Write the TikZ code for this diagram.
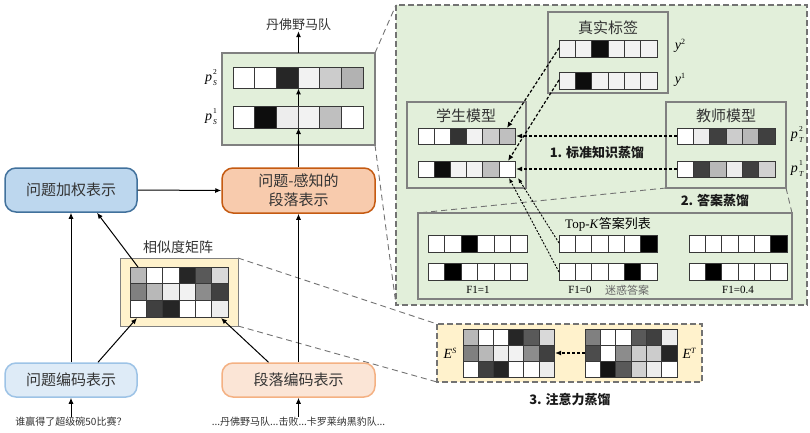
\documentclass[tikz,border=0pt]{standalone}
\usepackage{fontspec}
\setmainfont{Liberation Serif}
\newfontfamily\cjk{Noto Sans CJK SC}
\usetikzlibrary{arrows.meta}
\definecolor{gfill}{HTML}{E2EFDA}
\definecolor{yfill}{HTML}{FFF2CC}
\definecolor{bfill}{HTML}{BDD7EE}
\definecolor{bdraw}{HTML}{41719C}
\definecolor{lbfill}{HTML}{DEEBF7}
\definecolor{lbdraw}{HTML}{9DC3E6}
\definecolor{ofill}{HTML}{F8CBAD}
\definecolor{odraw}{HTML}{C55A11}
\definecolor{lofill}{HTML}{FBE5D6}
\definecolor{lodraw}{HTML}{F4B183}
\tikzset{
  cellline/.style={draw=black!78, line width=0.7pt},
  arr/.style={-{Latex[length=6pt,width=5pt]}, line width=1pt, black},
  darr/.style={arr, dash pattern=on 3pt off 2pt, line width=1.2pt},
  dotarr/.style={-{Latex[length=5pt,width=4pt]}, black, dash pattern=on 2pt off 1.5pt, line width=0.9pt},
  guide/.style={draw=black!55, dash pattern=on 6pt off 4pt, line width=0.9pt},
  panel/.style={draw=black!50, line width=1.2pt},
  cn/.style={font=\cjk\fontsize{#1}{#1}\selectfont, text=black!80, inner sep=0pt},
  bn/.style={font=\cjk\bfseries\fontsize{#1}{#1}\selectfont, text=black!90, inner sep=0pt},
  rbox/.style={rounded corners=11pt, line width=1.5pt, inner sep=0pt, align=center,
    font=\cjk\fontsize{15}{19}\selectfont, text=black!80},
  lab/.style={inner sep=0pt, font=\fontsize{14}{14}\selectfont}
}
\newcommand\gridrow[5]{\foreach \gv [count=\gi from 0] in {#5}{\draw[cellline,fill=black!\gv] ({#1+\gi*#3},{#2}) rectangle ++(#3,#4);}}
\newcommand\supsub[3]{\textit{#1}\kern1.2pt\makebox[0pt][l]{\raisebox{6.5pt}{\fontsize{7.5}{7.5}\selectfont #2}}\raisebox{-4.5pt}{\fontsize{7.5}{7.5}\selectfont\itshape #3}}
\begin{document}
\begin{tikzpicture}[x=1pt,y=-1pt]
\useasboundingbox (0,0) rectangle (810,433);

% ---------- green distillation region ----------
\draw[fill=gfill, draw=black!55, dash pattern=on 6pt off 3pt, line width=1.2pt] (396,5) rectangle (807,305);

% guide lines
\draw[guide] (375,53) -- (396,5);
\draw[guide] (375,145) -- (396,305);
\draw[guide] (238,258) -- (437,324);
\draw[guide] (238,326) -- (437,382);
\draw[guide] (666,188) -- (418,213);
\draw[guide] (786,188) -- (792,213);

% ---------- left pipeline ----------
\node[rbox, fill=bfill, draw=bdraw, minimum width=132pt, minimum height=44pt] (qw) at (71,190) {问题加权表示};
\node[rbox, fill=ofill, draw=odraw, minimum width=153pt, minimum height=45pt] (pa) at (298.5,190.5) {问题-感知的\\段落表示};
\node[rbox, fill=lbfill, draw=lbdraw, minimum width=132pt, minimum height=34pt] (qe) at (71,380) {问题编码表示};
\node[rbox, fill=lofill, draw=lodraw, minimum width=153pt, minimum height=34pt] (pe) at (298.5,380) {段落编码表示};

\node[cn=10] (qt) at (71,422) {谁赢得了超级碗50比赛？};
\node[cn=10] (pt) at (298.5,422) {...丹佛野马队...击败...卡罗莱纳黑豹队...};

% similarity matrix
\draw[draw=black!50, line width=1pt, fill=yfill] (120,258) rectangle (238,326);
\gridrow{130}{267}{16.33}{16.67}{28,0,0,85,65,15}
\gridrow{130}{283.67}{16.33}{16.67}{50,28,7,5,45,75}
\gridrow{130}{300.33}{16.33}{16.67}{0,75,85,0,0,7}
\node[cn=14] (simlab) at (178,247) {相似度矩阵};
\coordinate (simBL) at (137,318);
\coordinate (simBR) at (221,318);
\coordinate (simTL) at (138,267);

\draw[arr] (qt.north) -- (qe.south);
\draw[arr] (pt.north) -- (pe.south);
\draw[arr] (qe.north) -- (qw.south);
\draw[arr] ([xshift=27pt]qe.north) -- (simBL);
\draw[arr] (simTL) -- ([xshift=26pt]qw.south);
\draw[arr] ([xshift=-30pt]pe.north) -- (simBR);
\draw[arr] (pe.north) -- (pa.south);
\draw[arr] (qw.east) -- (pa.west);

% output box p_S
\draw[fill=gfill, draw=black!50, line width=1.5pt] (222,53) rectangle (375,145);
\gridrow{233}{67}{21.67}{21.5}{0,0,85,5,20,30}
\gridrow{233}{106.5}{21.67}{21.5}{0,95,7,5,25,0}
\node[lab] (ps2) at (211,78) {\supsub{p}{2}{S}};
\node[lab] (ps1) at (211,117) {\supsub{p}{1}{S}};
\coordinate (r1b) at (298.5,128);
\coordinate (r1t) at (298.5,106.5);
\coordinate (r2b) at (298.5,88.5);
\coordinate (pstop) at (298.5,53);
\node[cn=13] (ans) at (298.5,25) {丹佛野马队};
\draw[arr] (pa.north) -- (r1b);
\draw[arr] (r1t) -- (r2b);
\draw[arr] (pstop) -- (ans.south);

% ---------- ground truth ----------
\draw[panel] (548,12) rectangle (668,93);
\node[cn=15] (gt) at (608,28) {真实标签};
\gridrow{559}{40}{16.33}{17}{5,5,95,5,5,5}
\gridrow{559}{72}{16.33}{17}{5,95,5,5,5,5}
\node[lab] (y2) at (680,46) {\textit{y}\raisebox{5pt}{\fontsize{8}{8}\selectfont 2}};
\node[lab] (y1) at (680,80) {\textit{y}\raisebox{5pt}{\fontsize{8}{8}\selectfont 1}};

% ---------- student ----------
\draw[panel] (407,102) rectangle (526,188);
\node[cn=15] (stu) at (466,116) {学生模型};
\gridrow{418}{128}{16.17}{16}{0,0,80,5,20,25}
\gridrow{418}{161}{16.17}{16}{0,95,5,5,25,0}

% ---------- teacher ----------
\draw[panel] (666,102) rectangle (786,188);
\node[cn=15] (tea) at (726,116) {教师模型};
\gridrow{677}{128}{16.33}{16}{0,7,75,20,28,75}
\gridrow{677}{161}{16.33}{16}{0,75,28,7,75,18}
\node[lab] (pt2) at (797,135) {\supsub{p}{2}{T}};
\node[lab] (pt1) at (797,169) {\supsub{p}{1}{T}};

\coordinate (t2l) at (677,136);
\coordinate (t1l) at (677,169);
\coordinate (s2r) at (516,136);
\coordinate (s1r) at (516,169);
\coordinate (y2l) at (559,48);
\coordinate (y1l) at (559,80);
\coordinate (s2t) at (507,128);
\coordinate (s1t) at (508,161);
\draw[darr] (t2l) -- (s2r);
\draw[darr] (t1l) -- (s1r);
\draw[darr] (y2l) -- (s2t);
\draw[darr] (y1l) -- (s1t);
\node[bn=13] (kd1) at (597,153) {1. 标准知识蒸馏};
\node[bn=13] (kd2) at (715,201) {2. 答案蒸馏};

% ---------- Top-K list ----------
\draw[panel] (418,213) rectangle (792,299);
\node[inner sep=0pt] (topk) at (608,224) {\fontsize{13}{13}\selectfont Top-\textit{K}{\cjk 答案列表}};
\gridrow{428}{235}{16.5}{17}{0,0,100,0,0,0}
\gridrow{428}{263}{16.5}{17}{0,100,0,0,0,0}
\gridrow{559}{235}{16.33}{17}{0,0,0,0,0,100}
\gridrow{559}{263}{16.33}{17}{0,0,0,0,100,0}
\gridrow{689}{235}{16.33}{17}{0,0,0,0,0,100}
\gridrow{689}{263}{16.33}{17}{0,100,0,0,0,0}
\node[inner sep=0pt, font=\fontsize{11}{11}\selectfont] (f1a) at (478,290) {F1=1};
\node[inner sep=0pt, font=\fontsize{11}{11}\selectfont] (f1b) at (580,290) {F1=0};
\node[cn=11, text=black!60] (conf) at (627,290) {迷惑答案};
\node[inner sep=0pt, font=\fontsize{11}{11}\selectfont] (f1c) at (738,290) {F1=0.4};
\coordinate (m1l) at (559,243);
\coordinate (m2l) at (559,272);
\coordinate (s1ba) at (518,178);
\coordinate (s1bb) at (509,178);
\draw[dotarr] (m1l) -- (s1ba);
\draw[dotarr] (m2l) -- (s1bb);

% ---------- attention distillation ----------
\draw[fill=yfill, draw=black!55, dash pattern=on 6pt off 3pt, line width=1.2pt] (437,324) rectangle (702,382);
\gridrow{463}{329}{15.17}{16}{28,0,0,85,65,15}
\gridrow{463}{345}{15.17}{16}{50,28,7,5,45,75}
\gridrow{463}{361}{15.17}{16}{0,75,85,0,0,7}
\gridrow{585}{329}{15.33}{16}{50,0,0,65,75,7}
\gridrow{585}{345}{15.33}{16}{70,0,45,20,20,85}
\gridrow{585}{361}{15.33}{16}{0,92,65,18,7,0}
\node[lab] (es) at (450,353) {\textit{E}\raisebox{5pt}{\fontsize{8}{8}\selectfont\itshape S}};
\node[lab] (et) at (689,353) {\textit{E}\raisebox{5pt}{\fontsize{8}{8}\selectfont\itshape T}};
\coordinate (etl) at (585,353);
\coordinate (esr) at (555,353);
\draw[darr] (etl) -- (esr);
\node[bn=13] (kd3) at (570,400) {3. 注意力蒸馏};
\end{tikzpicture}
\end{document}
